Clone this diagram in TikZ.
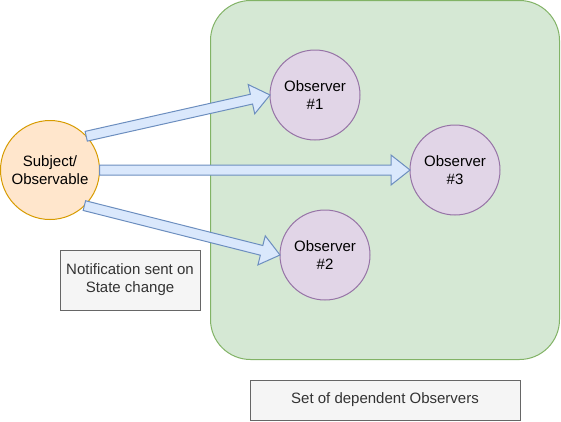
\documentclass[tikz,border=0pt]{standalone}
\usepackage{fontspec}
\setmainfont{Liberation Sans}
\usepackage{tikz}
\usetikzlibrary{calc,shapes}

\definecolor{grpfill}{HTML}{D5E8D4}
\definecolor{grpdraw}{HTML}{82B366}
\definecolor{subjfill}{HTML}{FFE6CC}
\definecolor{subjdraw}{HTML}{D79B00}
\definecolor{obsfill}{HTML}{E1D5E7}
\definecolor{obsdraw}{HTML}{9673A6}
\definecolor{notefill}{HTML}{F5F5F5}
\definecolor{notedraw}{HTML}{666666}
\definecolor{notetext}{HTML}{333333}
\definecolor{arrfill}{HTML}{DAE8FC}
\definecolor{arrdraw}{HTML}{6C8EBF}

% block arrow from #1 to #2
\newcommand{\flexarrow}[2]{%
  \coordinate (#1-#2) at ($(#2)!19pt!(#1)$);
  \draw[flexarr] ($(#1)!5pt!90:(#2)$) -- ($(#1-#2)!5pt!90:(#2)$)
     -- ($(#1-#2)!15pt!90:(#2)$) -- (#2) -- ($(#1-#2)!15pt!-90:(#2)$)
     -- ($(#1-#2)!5pt!-90:(#2)$) -- ($(#1)!5pt!-90:(#2)$) -- cycle;}

\begin{document}
\begin{tikzpicture}[x=1pt, y=-1pt, line width=1pt,
   every node/.style={font=\fontsize{15}{18}\selectfont, align=center, inner sep=0pt, outer sep=0pt},
   group/.style={draw=grpdraw, fill=grpfill, rounded corners=40pt},
   subject/.style={circle, draw=subjdraw, fill=subjfill, minimum size=99pt},
   observer/.style={circle, draw=obsdraw, fill=obsfill, minimum size=90pt},
   note/.style={draw=notedraw, fill=notefill, text=notetext},
   flexarr/.style={draw=arrdraw, fill=arrfill, line join=miter}]
\useasboundingbox (0,0) rectangle (561,421);

\node[group, minimum width=349pt, minimum height=359pt] (grp) at (385,180) {};

\node[subject] (subj) at (50,170) {Subject/\\Observable};
\node[observer] (obs1) at (315,95) {Observer\\\#1};
\node[observer] (obs3) at (455,170) {Observer\\\#3};
\node[observer] (obs2) at (325,255) {Observer\\\#2};

\node[note, minimum width=140pt, minimum height=60pt] (note) at (130,280) {Notification sent on\\State change};
\node[note, minimum width=270pt, minimum height=40pt] (set) at (385,400) {Set of dependent Observers};

\coordinate (s1) at (subj.43);
\coordinate (s2) at (subj.-46);
\coordinate (s3) at (subj.east);
\coordinate (t1) at (obs1.west);
\coordinate (t2) at (obs2.west);
\coordinate (t3) at (obs3.west);

\foreach \i in {1,2,3}
   \flexarrow{s\i}{t\i};
\end{tikzpicture}
\end{document}
